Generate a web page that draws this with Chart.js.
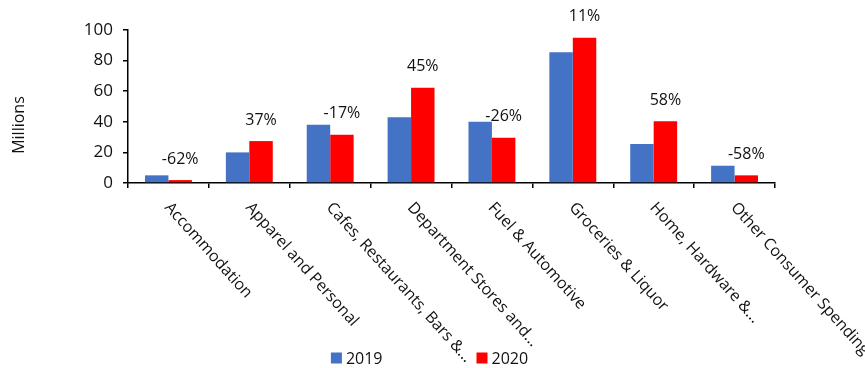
<!DOCTYPE html>
<html><head><meta charset="utf-8">
<script src="https://cdn.jsdelivr.net/npm/chart.js@4/dist/chart.umd.min.js"></script>
<style>html,body{margin:0;padding:0;background:#fff;}#wrap{width:865px;height:368px;}</style>
</head><body><div id="wrap"><canvas id="c" width="865" height="368"></canvas></div>
<script>
const categories = ["Accommodation", "Apparel and Personal", "Cafes, Restaurants, Bars &...", "Department Stores and...", "Fuel & Automotive", "Groceries & Liquor", "Home, Hardware &...", "Other Consumer Spending"];
const values2019 = [5, 20, 38, 43, 40, 85.5, 25.5, 11.3];
const values2020 = [1.9, 27.4, 31.6, 62.3, 29.6, 95, 40.4, 5];
const changeLabels = ["-62%", "37%", "-17%", "45%", "-26%", "11%", "58%", "-58%"];
const seriesNames = ["2019", "2020"];
const yTickValues = [0, 20, 40, 60, 80, 100];
const yTitle = "Millions";

const FONT = "'Open Sans', sans-serif";
const TEXT = "#111";
const COLORS = ["#4472C4", "#FF0000"];

const extras = {
  id: 'extras',
  afterDatasetsDraw(chart) {
    const ctx = chart.ctx;
    const meta = chart.getDatasetMeta(1);
    ctx.save();
    ctx.font = "16px " + FONT;
    ctx.fillStyle = TEXT;
    ctx.textAlign = 'center';
    ctx.textBaseline = 'middle';
    meta.data.forEach((bar, i) => {
      ctx.fillText(changeLabels[i], bar.x, bar.y - 21);
    });
    ctx.restore();
  },
  afterDraw(chart) {
    const ctx = chart.ctx;
    const xs = chart.scales.x;
    const area = chart.chartArea;
    ctx.save();
    ctx.font = "16px " + FONT;
    ctx.fillStyle = TEXT;
    ctx.textAlign = 'left';
    ctx.textBaseline = 'middle';
    const ang = 48 * Math.PI / 180;
    categories.forEach((c, i) => {
      const x = xs.getPixelForTick(i);
      ctx.save();
      ctx.translate(x - 1, xs.top + 22);
      ctx.rotate(ang);
      ctx.fillText(c, 0, 0);
      ctx.restore();
    });
    ctx.save();
    ctx.translate(19, area.bottom - 58);
    ctx.rotate(-Math.PI / 2);
    ctx.textAlign = 'center';
    ctx.fillText(yTitle, 0, 0);
    ctx.restore();
    const box = 11, gap = 4, between = 94;
    const w0 = ctx.measureText(seriesNames[0]).width;
    const w1 = ctx.measureText(seriesNames[1]).width;
    const total = box + gap + w0 + between + box + gap + w1;
    let lx = chart.width / 2 - 3 - total / 2;
    const ly = 358;
    seriesNames.forEach((n, i) => {
      ctx.fillStyle = COLORS[i];
      ctx.fillRect(lx, ly - box / 2, box, box);
      ctx.fillStyle = TEXT;
      ctx.fillText(n, lx + box + gap, ly + 1);
      lx += box + gap + (i === 0 ? w0 : w1) + between;
    });
    ctx.restore();
  }
};

new Chart(document.getElementById('c'), {
  type: 'bar',
  data: {
    labels: categories,
    datasets: [
      { label: seriesNames[0], data: values2019, backgroundColor: COLORS[0], borderWidth: 0, categoryPercentage: 0.58, barPercentage: 1 },
      { label: seriesNames[1], data: values2020, backgroundColor: COLORS[1], borderWidth: 0, categoryPercentage: 0.58, barPercentage: 1 }
    ]
  },
  options: {
    responsive: false,
    animation: false,
    layout: { padding: { top: 30, right: 90, bottom: 0, left: 0 } },
    plugins: { legend: { display: false }, tooltip: { enabled: false } },
    scales: {
      x: {
        grid: { display: true, drawOnChartArea: false, drawTicks: true, tickLength: 5, color: '#000', lineWidth: 1.5 },
        border: { display: true, color: '#000', width: 1.5 },
        ticks: { display: false },
        afterFit(s) { s.height = 185; }
      },
      y: {
        min: 0, max: 100,
        afterBuildTicks(s) { s.ticks = yTickValues.map(v => ({ value: v })); },
        grid: { display: true, drawOnChartArea: false, drawTicks: true, tickLength: 5, color: '#000', lineWidth: 1.5 },
        border: { display: true, color: '#000', width: 1.5 },
        ticks: { font: { family: FONT, size: 17 }, color: TEXT, padding: 10 },
        afterFit(s) { s.width = 128; }
      }
    }
  },
  plugins: [extras]
});
</script>
</body></html>
